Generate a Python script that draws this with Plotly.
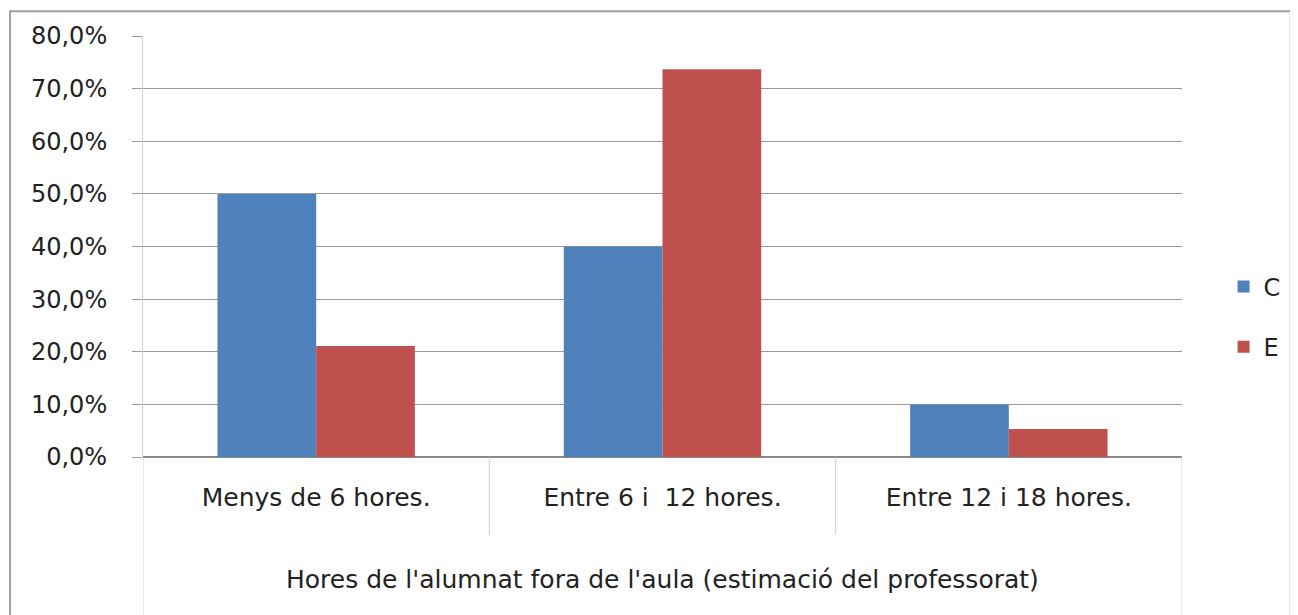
import plotly.graph_objects as go

categories = ["Menys de 6 hores.", "Entre 6 i  12 hores.", "Entre 12 i 18 hores."]
axis_title = "Hores de l'alumnat fora de l'aula (estimació del professorat)"
series_names = ["C", "E"]
values_C = [0.50, 0.40, 0.10]
values_E = [0.211, 0.737, 0.053]
colors = ["#4F81BD", "#C0504D"]
y_ticks = [0, 0.1, 0.2, 0.3, 0.4, 0.5, 0.6, 0.7, 0.8]
y_ticklabels = ["0,0%", "10,0%", "20,0%", "30,0%", "40,0%", "50,0%", "60,0%", "70,0%", "80,0%"]

font = "'DejaVu Sans', sans-serif"
FS = 24
FS_CAT = 25

fig = go.Figure()
legend_ids = ["legend", "legend2"]
for name, vals, col, lg in zip(series_names, [values_C, values_E], colors, legend_ids):
    fig.add_trace(go.Bar(x=categories, y=vals, name=name, legend=lg,
                         marker=dict(color=col, line=dict(width=0))))

n = len(categories)
div_color = "#D0D0D0"
shapes = []
# inner dividers between categories
for i in range(1, n):
    shapes.append(dict(type="line", xref="x", yref="paper", x0=i - 0.5, x1=i - 0.5,
                       y0=0, y1=-0.185, line=dict(color=div_color, width=1)))
# outer edges down to bottom
for xv in (-0.5, n - 0.5):
    shapes.append(dict(type="line", xref="x", yref="paper", x0=xv, x1=xv,
                       y0=0, y1=-0.40, line=dict(color=div_color, width=1)))
# chart-area border
shapes.append(dict(type="rect", xref="paper", yref="paper", x0=-0.128, x1=1.1047,
                   y0=-0.45, y1=1.059, line=dict(color="#A0A0A0", width=2),
                   fillcolor="rgba(0,0,0,0)", layer="below"))

fig.update_layout(
    width=1290, height=607,
    barmode="group", bargap=0.43, bargroupgap=0,
    plot_bgcolor="white", paper_bgcolor="white",
    margin=dict(l=135, r=108, t=28, b=158),
    font=dict(family=font, size=FS, color="#222222"),
    showlegend=True,
    legend=dict(x=1.04, y=0.404, xanchor="left", yanchor="middle",
                font=dict(size=FS), itemwidth=30, bgcolor="rgba(0,0,0,0)"),
    legend2=dict(x=1.04, y=0.261, xanchor="left", yanchor="middle",
                 font=dict(size=FS), itemwidth=30, bgcolor="rgba(0,0,0,0)"),
    xaxis=dict(type="category", range=[-0.5, n - 0.5], showgrid=False, showline=False,
               ticks="", tickfont=dict(size=FS_CAT), ticklabelstandoff=23),
    yaxis=dict(range=[0, 0.8], tickvals=y_ticks, ticktext=y_ticklabels,
               showgrid=True, gridcolor="#9A9A9A", gridwidth=1,
               showline=True, linecolor="#D0D0D0", zeroline=True, zerolinecolor="#8A8A8A",
               ticks="outside", ticklen=10, tickcolor="#9A9A9A",
               tickfont=dict(size=FS), ticklabelstandoff=20),
    shapes=shapes,
    annotations=[dict(text=axis_title, xref="paper", yref="paper", x=0.5, y=-0.292,
                      showarrow=False, xanchor="center", yanchor="middle",
                      font=dict(size=FS_CAT, family=font, color="#222222"))],
)
fig.write_html("out.html")
